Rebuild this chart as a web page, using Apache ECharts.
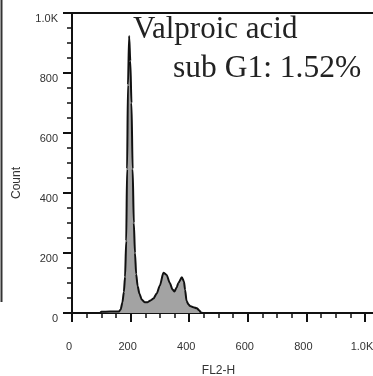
<!DOCTYPE html>
<html>
<head>
<meta charset="utf-8">
<script src="https://cdn.jsdelivr.net/npm/echarts@6/dist/echarts.min.js"></script>
<style>
  html, body { margin: 0; padding: 0; background: #fff; }
  #chart { width: 373px; height: 376px; }
</style>
</head>
<body>
<div id="chart"></div>
<script>
// FL2-H channel (x) and event count (y)
const fl2h = [0, 96, 100, 130, 160, 166, 172, 177, 181, 185, 188, 191, 195, 199, 203, 207, 211, 215, 219, 224, 230, 238, 248, 258, 268, 278, 289, 300, 312, 323, 334, 343, 350, 357, 363, 375, 382, 386, 391, 398, 403, 414, 426, 434, 440, 446, 1000]
const counts = [0, 0, 4, 5, 5, 12, 35, 70, 120, 240, 480, 760, 923, 840, 700, 480, 300, 200, 130, 90, 65, 45, 36, 36, 42, 48, 65, 92, 134, 127, 100, 78, 72, 85, 100, 119, 105, 77, 40, 28, 23, 19, 16, 9, 2, 0, 0]
const xTicks = [0, 200, 400, 600, 800, 1000]
const yTicks = [0, 200, 400, 600, 800, 1000]
const titleLine1 = 'Valproic acid'
const titleLine2 = 'sub G1: 1.52%'

const chart = echarts.init(document.getElementById('chart'))

const fmt = v => (v === 1000 ? '1.0K' : String(v))
const labelFont = { fontFamily: 'Liberation Sans', fontSize: 11, color: '#333' }

const option = {
  animation: false,
  backgroundColor: '#fff',
  grid: { left: 72, right: 8, top: 13, bottom: 63, outerBoundsMode: 'none' },
  title: [
    {
      text: titleLine1,
      left: 133, top: 14, padding: 0,
      textStyle: { fontFamily: 'Liberation Serif', fontSize: 31, fontWeight: 'normal', color: '#222' }
    },
    {
      text: titleLine2,
      left: 173, top: 53, padding: 0,
      textStyle: { fontFamily: 'Liberation Serif', fontSize: 31.5, fontWeight: 'normal', color: '#222' }
    }
  ],
  xAxis: {
    type: 'value',
    min: xTicks[0],
    max: xTicks[xTicks.length - 1],
    interval: 200,
    name: 'FL2-H',
    nameLocation: 'middle',
    nameGap: 52,
    nameTextStyle: { fontFamily: 'Liberation Sans', fontSize: 12, color: '#333' },
    axisLine: { lineStyle: { color: '#111', width: 2 } },
    axisTick: { length: 9, lineStyle: { color: '#111', width: 2 } },
    minorTick: { show: true, splitNumber: 4, length: 5, lineStyle: { color: '#111', width: 1.5 } },
    splitLine: { show: false },
    axisLabel: Object.assign({ margin: 28, formatter: fmt, padding: [0, 6, 0, 0] }, labelFont)
  },
  yAxis: {
    type: 'value',
    min: yTicks[0],
    max: yTicks[yTicks.length - 1],
    interval: 200,
    name: 'Count',
    nameLocation: 'middle',
    nameGap: 49,
    nameTextStyle: { fontFamily: 'Liberation Sans', fontSize: 12, color: '#333', padding: [0, 40, 0, 0] },
    axisLine: { show: true, lineStyle: { color: '#111', width: 2 } },
    axisTick: { show: true, length: 9, lineStyle: { color: '#111', width: 2 } },
    minorTick: { show: true, splitNumber: 4, length: 5, lineStyle: { color: '#111', width: 1.5 } },
    splitLine: { show: false },
    axisLabel: Object.assign({ margin: 14, formatter: fmt, verticalAlign: 'top' }, labelFont)
  },
  graphic: [
    // top frame line and axis extension past 1.0K
    { type: 'line', shape: { x1: 72, y1: 13, x2: 373, y2: 13 }, style: { stroke: '#111', lineWidth: 2 }, silent: true },
    { type: 'line', shape: { x1: 365, y1: 313, x2: 373, y2: 313 }, style: { stroke: '#111', lineWidth: 2 }, silent: true },
    // edge of the neighbouring panel
    { type: 'line', shape: { x1: 1.5, y1: 0, x2: 1.5, y2: 302 }, style: { stroke: '#333', lineWidth: 2 }, silent: true }
  ],
  series: [
    {
      type: 'line',
      data: fl2h.map((x, i) => [x, counts[i]]),
      showSymbol: false,
      smooth: 0.25,
      smoothMonotone: 'x',
      lineStyle: { color: '#111', width: 2 },
      areaStyle: { color: '#a3a3a3', opacity: 1 },
      z: 1
    }
  ]
}

chart.setOption(option)
</script>
</body>
</html>
